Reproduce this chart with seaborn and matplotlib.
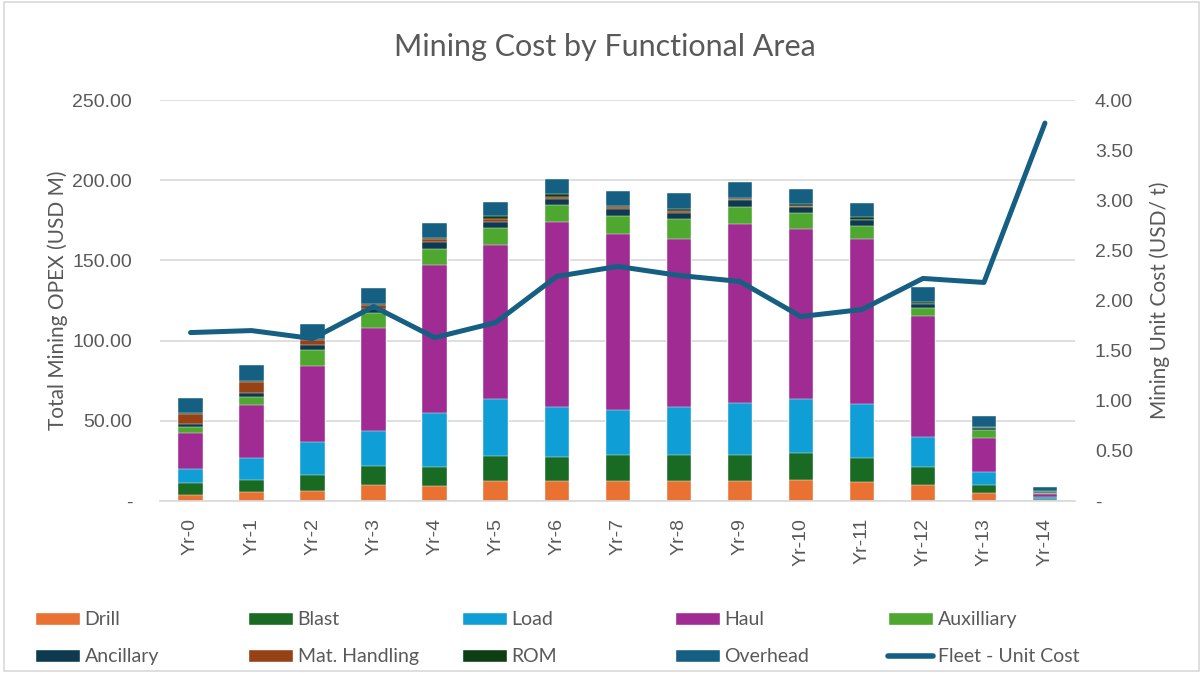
import numpy as np
import seaborn as sns
import matplotlib.pyplot as plt
from matplotlib.patches import Patch, Rectangle
from matplotlib.lines import Line2D
from matplotlib.ticker import FuncFormatter, MultipleLocator

years = [f"Yr-{i}" for i in range(15)]

drill = [4.0, 5.6, 6.2, 10.0, 9.4, 12.3, 12.3, 12.7, 12.7, 12.7, 13.1, 12.0, 10.0, 4.8, 0.5]
blast = [7.0, 7.5, 9.8, 12.0, 12.0, 15.8, 15.3, 16.0, 16.0, 16.0, 16.6, 14.6, 11.4, 5.2, 1.0]
load = [8.8, 13.5, 21.0, 21.8, 33.3, 35.5, 31.2, 28.0, 30.1, 32.6, 33.7, 33.9, 18.7, 8.3, 0.8]
haul = [22.6, 33.1, 47.4, 64.1, 92.2, 96.0, 115.3, 109.8, 104.5, 111.2, 106.0, 102.8, 75.2, 21.2, 2.2]
auxilliary = [3.9, 5.3, 9.7, 9.1, 10.0, 10.6, 10.4, 11.2, 12.3, 11.0, 10.0, 8.3, 5.2, 4.8, 0.6]
ancillary = [1.5, 2.1, 3.2, 2.5, 4.4, 3.7, 3.6, 4.2, 3.8, 4.2, 4.1, 3.6, 2.3, 1.0, 0.6]
mat_handling = [6.4, 7.2, 3.2, 2.5, 1.9, 1.9, 1.6, 1.2, 1.4, 0.3, 0.2, 0.2, 0.1, 0.0, 0.0]
rom = [0.5, 0.5, 0.5, 0.8, 1.0, 2.1, 1.7, 0.8, 1.2, 0.9, 1.5, 1.5, 1.4, 1.0, 0.5]
overhead = [9.2, 9.8, 9.2, 9.8, 8.9, 8.7, 9.1, 9.6, 9.8, 9.8, 9.1, 9.1, 8.9, 6.7, 2.3]

unit_cost = [1.68, 1.70, 1.62, 1.94, 1.63, 1.78, 2.24, 2.34, 2.25, 2.19, 1.84, 1.91, 2.22, 2.18, 3.77]

components = [
    ("Drill", drill, "#E97132"),
    ("Blast", blast, "#196B24"),
    ("Load", load, "#0F9ED5"),
    ("Haul", haul, "#A02B93"),
    ("Auxilliary", auxilliary, "#4EA72E"),
    ("Ancillary", ancillary, "#0E3A50"),
    ("Mat. Handling", mat_handling, "#974117"),
    ("ROM", rom, "#0F3D14"),
    ("Overhead", overhead, "#156082"),
]
line_color = "#156082"
grey = "#595959"

sns.set_style("white")
plt.rcParams["font.family"] = ["Liberation Sans", "DejaVu Sans"]

fig = plt.figure(figsize=(12.03, 6.73), dpi=100)
ax = fig.add_axes([0.133, 0.2556, 0.761, 0.5958])

# stacked bars: draw cumulative totals from the top down
x = np.arange(len(years))
cum = np.cumsum(np.array([c[1] for c in components]), axis=0)
for i in range(len(components) - 1, -1, -1):
    sns.barplot(x=x, y=cum[i], color=components[i][2], width=0.4,
                saturation=1, ax=ax, native_scale=False, errorbar=None,
                edgecolor="white", linewidth=0.3)

ax.set_ylim(0, 250)
ax.set_xlim(-0.5, len(years) - 0.5)
ax.yaxis.set_major_locator(MultipleLocator(50))
ax.yaxis.set_major_formatter(FuncFormatter(lambda v, p: "-" if v == 0 else f"{v:.2f}"))
ax.grid(axis="y", color="#D9D9D9", lw=1.2)
ax.set_axisbelow(True)
ax.set_xticks(x)
ax.set_xticklabels(years, rotation=90)
ax.tick_params(axis="both", length=0, labelsize=14, labelcolor=grey, pad=12)
ax.tick_params(axis="y", pad=20)
for s in ["top", "left", "right"]:
    ax.spines[s].set_visible(False)
ax.spines["bottom"].set_color("#D9D9D9")
ax.spines["bottom"].set_linewidth(1.2)
ax.set_ylabel("Total Mining OPEX (USD M)", fontsize=15, color=grey,
              family=["Lato", "DejaVu Sans"], labelpad=3)

ax2 = ax.twinx()
sns.lineplot(x=x, y=unit_cost, ax=ax2, color=line_color, lw=3.6)
ax2.set_ylim(0, 4)
ax2.yaxis.set_major_locator(MultipleLocator(0.5))
ax2.yaxis.set_major_formatter(FuncFormatter(lambda v, p: "-" if v == 0 else f"{v:.2f}"))
ax2.tick_params(axis="y", length=0, labelsize=14, labelcolor=grey, pad=14)
for s in ax2.spines.values():
    s.set_visible(False)
ax2.set_ylabel("Mining Unit Cost (USD/ t)", fontsize=15, color=grey,
               family=["Lato", "DejaVu Sans"], labelpad=12)

fig.text(0.503, 0.93, "Mining Cost by Functional Area", ha="center", va="center",
         fontsize=22, color=grey, family=["Lato", "DejaVu Sans"])

handles = [Patch(facecolor=c, label=n) for n, _, c in components]
handles.append(Line2D([0], [0], color=line_color, lw=4, solid_capstyle="round",
                      label="Fleet - Unit Cost"))

# one legend per entry so the grid matches the fixed column spacing
col_x = [0.0291, 0.2062, 0.3840, 0.5611, 0.7382]
row_y = [0.0788, 0.0238]
for k, h in enumerate(handles):
    fig.legend(handles=[h], loc="center left",
               bbox_to_anchor=(col_x[k % 5], row_y[k // 5]), frameon=False,
               borderpad=0, borderaxespad=0,
               handlelength=2.3, handleheight=0.65, handletextpad=0.25,
               prop={"family": ["Lato", "DejaVu Sans"], "size": 14},
               labelcolor=grey)

fig.patches.append(Rectangle((0.003, 0.003), 0.994, 0.994, transform=fig.transFigure,
                             fill=False, edgecolor="#D9D9D9", lw=1.2))

fig.savefig("out.png", dpi=100)
